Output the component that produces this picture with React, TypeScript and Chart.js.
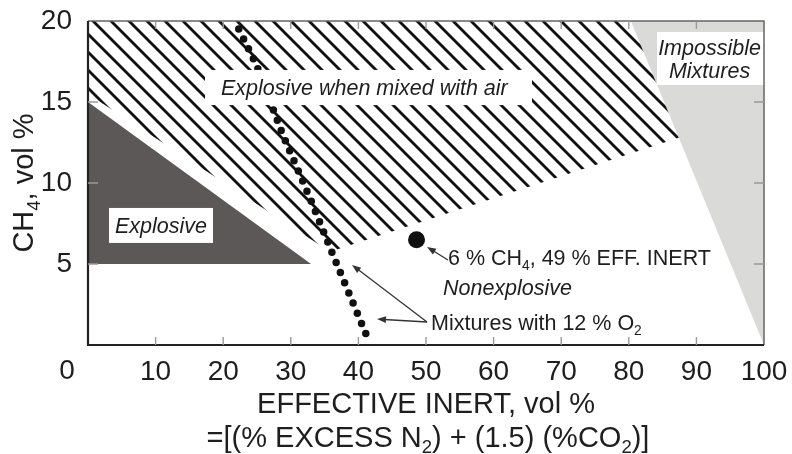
import React, { useEffect, useRef } from 'react';
import { Chart, registerables } from 'chart.js';

Chart.register(...registerables);

// ---- data ----
const xTickStep = 10;
const yTickStep = 5;
const xRange = [0, 100];
const yRange = [0, 20];

// Regions (vertices in data units: effective inert %, CH4 %)
const impossibleZone = [
  { x: 80.3, y: 20 },
  { x: 100, y: 20 },
  { x: 100, y: 0 },
];
const explosiveZone = [
  { x: 0, y: 15 },
  { x: 33, y: 5 },
  { x: 0, y: 5 },
];
const explosiveWithAirZone = [
  { x: 0, y: 20 },
  { x: 80.3, y: 20 },
  { x: 87.4, y: 12.8 },
  { x: 35.8, y: 5.75 },
  { x: 0, y: 15.5 },
];
// Mixtures with 12 % O2 (dotted curve)
const o2Curve = [
  { x: 22.3, y: 19.5 },
  { x: 24.9, y: 17.3 },
  { x: 28.8, y: 13.0 },
  { x: 33.1, y: 8.8 },
  { x: 36.1, y: 5.7 },
  { x: 38.6, y: 3.2 },
  { x: 41.3, y: 0.5 },
];
// Marked mixture: 6 % CH4, 49 % effective inert
const samplePoint = [{ x: 48.6, y: 6.5 }];

const FONT = '"Liberation Sans", Arial, Helvetica, sans-serif';
const TEXT = '#1e1e1e';

type Part = { t: string; sub?: boolean };

function drawRich(
  ctx: CanvasRenderingContext2D,
  parts: Part[],
  x: number,
  y: number,
  size: number,
  align: 'left' | 'center',
  italic = false
) {
  const f = (s: number) => `${italic ? 'italic ' : ''}${s}px ${FONT}`;
  const subSize = size * 0.64;
  let total = 0;
  const widths: number[] = [];
  for (const p of parts) {
    ctx.font = f(p.sub ? subSize : size);
    const w = ctx.measureText(p.t).width;
    widths.push(w);
    total += w;
  }
  let cx = align === 'center' ? x - total / 2 : x;
  ctx.textAlign = 'left';
  ctx.textBaseline = 'alphabetic';
  parts.forEach((p, i) => {
    ctx.font = f(p.sub ? subSize : size);
    ctx.fillText(p.t, cx, y + (p.sub ? size * 0.24 : 0));
    cx += widths[i];
  });
}

function arrow(ctx: CanvasRenderingContext2D, x1: number, y1: number, x2: number, y2: number) {
  const ang = Math.atan2(y2 - y1, x2 - x1);
  const len = 9;
  const half = 3.4;
  ctx.beginPath();
  ctx.moveTo(x1, y1);
  ctx.lineTo(x2 - Math.cos(ang) * len * 0.8, y2 - Math.sin(ang) * len * 0.8);
  ctx.stroke();
  ctx.beginPath();
  ctx.moveTo(x2, y2);
  ctx.lineTo(x2 - Math.cos(ang) * len + Math.sin(ang) * half, y2 - Math.sin(ang) * len - Math.cos(ang) * half);
  ctx.lineTo(x2 - Math.cos(ang) * len - Math.sin(ang) * half, y2 - Math.sin(ang) * len + Math.cos(ang) * half);
  ctx.closePath();
  ctx.fill();
}

function makeHatch(): CanvasPattern | string {
  const w = 18;
  const h = 18;
  const c = document.createElement('canvas');
  c.width = w;
  c.height = h;
  const g = c.getContext('2d');
  if (!g) return '#888';
  g.strokeStyle = '#111';
  g.lineWidth = 2.8;
  for (const dx of [-w, 0, w]) {
    g.beginPath();
    g.moveTo(dx - w, -h);
    g.lineTo(dx + 2 * w, 2 * h);
    g.stroke();
  }
  return g.createPattern(c, 'repeat') || '#888';
}

const overlay = {
  id: 'overlay',
  afterDatasetsDraw(chart: any) {
    const { ctx, chartArea: a, scales } = chart;
    const xs = scales.x;
    const ys = scales.y;
    const px = (v: number) => xs.getPixelForValue(v);
    const py = (v: number) => ys.getPixelForValue(v);
    ctx.save();

    // white label boxes
    ctx.fillStyle = '#ffffff';
    const boxes = [
      [17.31, 65.68, 16.98, 14.81],
      [3.11, 18.49, 8.46, 6.3],
      [84.17, 100, 19.32, 16.05],
    ];
    for (const [x0, x1, y0, y1] of boxes) {
      ctx.fillRect(px(x0), py(y0), px(x1) - px(x0), py(y1) - py(y0));
    }

    // frame
    ctx.lineCap = 'butt';
    ctx.strokeStyle = '#666';
    ctx.lineWidth = 1.5;
    ctx.beginPath();
    ctx.moveTo(a.left, a.top);
    ctx.lineTo(a.right, a.top);
    ctx.lineTo(a.right, a.bottom);
    ctx.stroke();
    ctx.strokeStyle = '#222';
    ctx.lineWidth = 2.2;
    ctx.beginPath();
    ctx.moveTo(a.left, a.top);
    ctx.lineTo(a.left, a.bottom);
    ctx.lineTo(a.right, a.bottom);
    ctx.stroke();

    // inward tick marks
    ctx.strokeStyle = '#999';
    ctx.lineWidth = 1.4;
    for (let v = xRange[0] + xTickStep; v < xRange[1]; v += xTickStep) {
      const X = px(v);
      ctx.beginPath();
      ctx.moveTo(X, a.bottom);
      ctx.lineTo(X, a.bottom - 8);
      ctx.moveTo(X, a.top);
      ctx.lineTo(X, a.top + 8);
      ctx.stroke();
    }
    for (let v = yRange[0] + yTickStep; v < yRange[1]; v += yTickStep) {
      const Y = py(v);
      ctx.beginPath();
      ctx.moveTo(a.left, Y);
      ctx.lineTo(a.left + 10, Y);
      ctx.moveTo(a.right, Y);
      ctx.lineTo(a.right - 10, Y);
      ctx.stroke();
    }

    // annotation texts
    ctx.fillStyle = TEXT;
    const S = 21.5;
    drawRich(ctx, [{ t: 'Explosive when mixed with air' }], px(19.67), py(15.43), S, 'left', true);
    drawRich(ctx, [{ t: 'Explosive' }], px(3.99), py(6.93), S, 'left', true);
    drawRich(ctx, [{ t: 'Impossible' }], px(91.94), py(17.9), S, 'center', true);
    drawRich(ctx, [{ t: 'Mixtures' }], px(91.94), py(16.48), S, 'center', true);
    drawRich(ctx, [{ t: 'Nonexplosive' }], px(52.51), py(3.09), S, 'left', true);
    drawRich(
      ctx,
      [{ t: '6 % CH' }, { t: '4', sub: true }, { t: ', 49 % EFF. INERT' }],
      px(53.25),
      py(4.94),
      S,
      'left'
    );
    drawRich(ctx, [{ t: 'Mixtures with 12 % O' }, { t: '2', sub: true }], px(50.74), py(0.93), S, 'left');

    // arrows
    ctx.strokeStyle = '#333';
    ctx.fillStyle = '#333';
    ctx.lineWidth = 1.3;
    arrow(ctx, px(50.15), py(1.42), px(39.05), py(4.94));
    arrow(ctx, px(50.15), py(1.42), px(42.75), py(1.6));
    arrow(ctx, px(53.25), py(5.25), px(50.15), py(6.05));

    ctx.restore();
  },
  afterDraw(chart: any) {
    const { ctx, chartArea: a, scales } = chart;
    const xs = scales.x;
    ctx.save();
    ctx.fillStyle = TEXT;
    // the "0" label of the x axis, set left of the axis corner as in the reference
    ctx.font = `28px ${FONT}`;
    ctx.textAlign = 'center';
    ctx.textBaseline = 'middle';
    ctx.fillText(String(xRange[0]), xs.getPixelForValue(xRange[0]) - 21, a.bottom + 26);

    const cx = (a.left + a.right) / 2;
    drawRich(ctx, [{ t: 'EFFECTIVE INERT, vol %' }], cx, a.bottom + 68, 29, 'center');
    drawRich(
      ctx,
      [
        { t: '=[(% EXCESS N' },
        { t: '2', sub: true },
        { t: ') + (1.5) (%CO' },
        { t: '2', sub: true },
        { t: ')]' },
      ],
      cx + 2,
      a.bottom + 101.5,
      29,
      'center'
    );

    ctx.translate(33, (a.top + a.bottom) / 2);
    ctx.rotate(-Math.PI / 2);
    drawRich(ctx, [{ t: 'CH' }, { t: '4', sub: true }, { t: ', vol %' }], 0, 0, 29, 'center');
    ctx.restore();
  },
};

export default function App() {
  const ref = useRef<HTMLCanvasElement | null>(null);

  useEffect(() => {
    const canvas = ref.current;
    if (!canvas) return;
    const hatch = makeHatch();
    const polygon = (data: any[], color: any, order: number) => ({
      data,
      showLine: true,
      fill: 'shape',
      backgroundColor: color,
      borderColor: 'rgba(0,0,0,0)',
      borderWidth: 0,
      pointRadius: 0,
      pointHoverRadius: 0,
      tension: 0,
      order,
    });
    const chart = new Chart(canvas, {
      type: 'scatter',
      data: {
        datasets: [
          {
            data: samplePoint,
            pointRadius: 8.5,
            pointBackgroundColor: '#111',
            pointBorderWidth: 0,
            showLine: false,
            order: 1,
          } as any,
          {
            data: o2Curve,
            showLine: true,
            fill: false,
            borderColor: '#111',
            borderWidth: 7.5,
            borderDash: [0, 11],
            borderCapStyle: 'round',
            pointRadius: 0,
            tension: 0,
            order: 2,
          } as any,
          polygon(explosiveWithAirZone, hatch, 3) as any,
          polygon(explosiveZone, '#5b5857', 4) as any,
          polygon(impossibleZone, '#dadad8', 5) as any,
        ],
      },
      options: {
        animation: false,
        responsive: false,
        devicePixelRatio: 1,
        events: [],
        layout: { padding: { top: 21, right: 28, left: 0, bottom: 0 } },
        plugins: { legend: { display: false }, tooltip: { enabled: false } },
        scales: {
          x: {
            type: 'linear',
            min: xRange[0],
            max: xRange[1],
            grid: { display: false, drawTicks: false, tickLength: 0 },
            border: { display: false },
            ticks: {
              stepSize: xTickStep,
              autoSkip: false,
              maxRotation: 0,
              padding: 10,
              color: TEXT,
              font: { family: FONT, size: 28 },
              callback: (v: any) => (Number(v) === xRange[0] ? '' : String(v)),
            },
            afterFit: (s: any) => {
              s.height = 109;
              s.paddingLeft = 0;
              s.paddingRight = 0;
              s.paddingTop = 0;
              s.paddingBottom = 0;
            },
          },
          y: {
            type: 'linear',
            min: yRange[0],
            max: yRange[1],
            grid: { display: false, drawTicks: false, tickLength: 0 },
            border: { display: false },
            ticks: {
              stepSize: yTickStep,
              padding: 16,
              color: TEXT,
              font: { family: FONT, size: 28 },
              callback: (v: any) => (Number(v) === yRange[0] ? '' : String(v)),
            },
            afterFit: (s: any) => {
              s.width = 88;
              s.paddingLeft = 0;
              s.paddingRight = 0;
              s.paddingTop = 0;
              s.paddingBottom = 0;
            },
          },
        },
      } as any,
      plugins: [overlay as any],
    });
    return () => chart.destroy();
  }, []);

  return (
    <div style={{ position: 'absolute', left: 0, top: 0, width: 792, height: 454, background: '#fff' }}>
      <canvas ref={ref} width={792} height={454} style={{ display: 'block' }} />
    </div>
  );
}
